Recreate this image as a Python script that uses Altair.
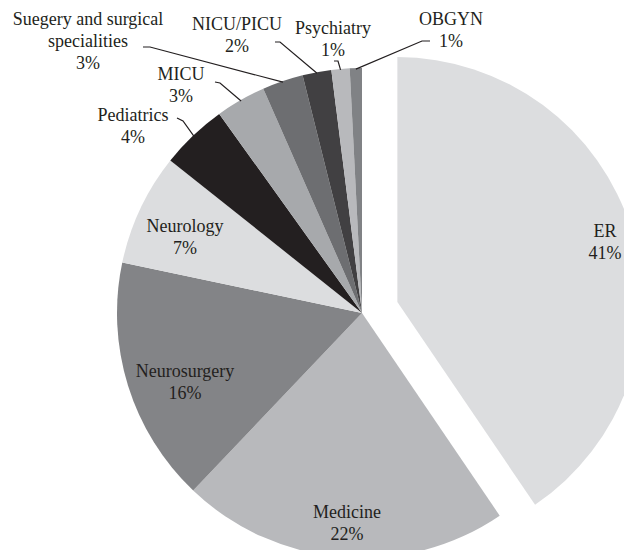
import math
import altair as alt
import pandas as pd

# ---- data ----
categories = ["ER", "Medicine", "Neurosurgery", "Neurology", "Pediatrics", "MICU",
              "Suegery and surgical specialities", "NICU/PICU", "Psychiatry", "OBGYN"]
values = [40.5, 21.6, 16.2, 7.4, 4.4, 3.3, 2.7, 1.9, 1.2, 0.8]
shown_pct = [41, 22, 16, 7, 4, 3, 3, 2, 1, 1]
label_names = ["ER", "Medicine", "Neurosurgery", "Neurology", "Pediatrics", "MICU",
               "Suegery and surgical\nspecialities", "NICU/PICU", "Psychiatry", "OBGYN"]
colors = ["#dcdddf", "#b8b9bc", "#838487", "#dcdddf", "#231f20", "#a7a9ac",
          "#6d6e71", "#414042", "#b8b9bc", "#808285"]

# ---- layout (pixels inside the plot area; y = first text line) ----
CX, CY, R = 354, 305, 245
explode = {"ER": 37}
label_xy = {
    "ER": (597, 224), "Medicine": (339, 505), "Neurosurgery": (177, 364),
    "Neurology": (177, 219), "Pediatrics": (125, 108), "MICU": (173, 67),
    "Suegery and surgical specialities": (80, 12), "NICU/PICU": (229, 17),
    "Psychiatry": (325, 21), "OBGYN": (443, 12),
}
leader_pts = {
    "Pediatrics": [(169, 110), (175, 113)],
    "MICU": [(207, 74), (212, 75)],
    "Suegery and surgical specialities": [(135, 39), (142, 39)],
    "NICU/PICU": [(267, 34), (272, 34)],
    "Psychiatry": [(326, 53), (330, 53)],
    "OBGYN": [(422, 33), (414, 33)],
}

total = sum(values)
rows, start = [], 0.0
for c, v, p, n in zip(categories, values, shown_pct, label_names):
    mid = start + v / 2
    ang = mid / total * 2 * math.pi
    d = explode.get(c, 0)
    cx = CX + d * math.sin(ang)
    cy = CY - d * math.cos(ang)
    lx, ly = label_xy[c]
    rows.append(dict(cat=c, start=start, end=start + v, cx=cx, cy=cy,
                     label=f"{n}\n{p}%", lx=lx, ly=ly, ang=ang))
    start += v
df = pd.DataFrame(rows)

lines = []
for r in rows:
    if r["cat"] in leader_pts:
        pts = leader_pts[r["cat"]] + [(r["cx"] + (R - 1) * math.sin(r["ang"]),
                                        r["cy"] - (R - 1) * math.cos(r["ang"]))]
        for i, (x, y) in enumerate(pts):
            lines.append(dict(cat=r["cat"], i=i, x=x, y=y))
ldf = pd.DataFrame(lines)

theta_scale = alt.Scale(domain=[0, total], range=[0, 2 * math.pi])

arcs = alt.Chart(df).mark_arc(radius=R, stroke=None).encode(
    theta=alt.Theta("start:Q", scale=theta_scale, stack=False),
    theta2="end:Q",
    x=alt.X("cx:Q", scale=None, axis=None),
    y=alt.Y("cy:Q", scale=None, axis=None),
    color=alt.Color("cat:N", scale=alt.Scale(domain=categories, range=colors), legend=None),
)

leaders = alt.Chart(ldf).mark_line(color="#231f20", strokeWidth=1.2).encode(
    x=alt.X("x:Q", scale=None, axis=None),
    y=alt.Y("y:Q", scale=None, axis=None),
    detail="cat:N",
    order="i:O",
)

texts = alt.Chart(df).mark_text(
    font="Liberation Serif", fontSize=18, color="#231f20", lineBreak="\n",
    lineHeight=22, align="center", baseline="middle",
).encode(
    x=alt.X("lx:Q", scale=None, axis=None),
    y=alt.Y("ly:Q", scale=None, axis=None),
    text="label:N",
)

chart = alt.layer(arcs, leaders, texts).properties(
    width=616, height=542, padding=0, autosize="none"
).configure_view(stroke=None)

chart.save("out.html", embed_options={"renderer": "svg", "actions": False})
